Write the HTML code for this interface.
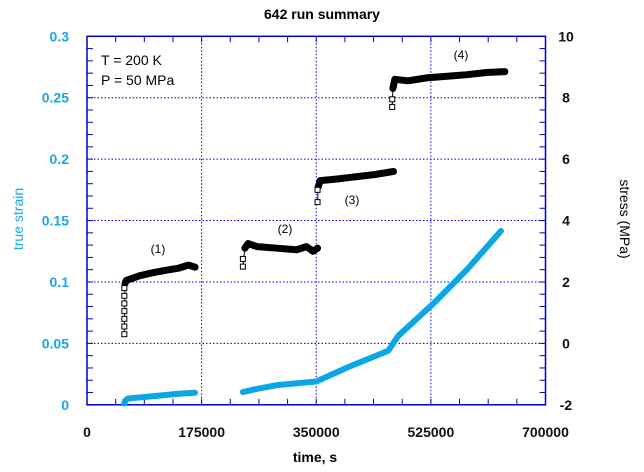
<!DOCTYPE html>
<html><head><meta charset="utf-8"><style>
body{margin:0;background:#fff;}
svg{display:block;font-family:"Liberation Sans",sans-serif;}
</style></head><body>
<svg id="c" width="644" height="472"></svg>
<script>
// data
const xTicks=[0,175000,350000,525000,700000];
const xTickLabels=["0","175000","350000","525000","700000"];
const leftTicks=[0,0.05,0.1,0.15,0.2,0.25,0.3];
const leftTickLabels=["0","0.05","0.1","0.15","0.2","0.25","0.3"];
const rightTicks=[-2,0,2,4,6,8,10];
const rightTickLabels=["-2","0","2","4","6","8","10"];
const strainT1=[57000,58000,62000,80000,100000,120000,140000,165000];
const strainV1=[0.001,0.003,0.005,0.006,0.007,0.008,0.009,0.0098];
const strainT2=[238000,260000,290000,320000,350000,400000,460000,475000,530000,580000,632000];
const strainV2=[0.0104,0.013,0.016,0.0175,0.019,0.031,0.044,0.056,0.083,0.11,0.1415];
const stressT1=[57000,58000,60000,80000,100000,120000,140000,155000,165000];
const stressV1=[0.3,1.95,2.05,2.2,2.3,2.38,2.45,2.55,2.48];
const stressT2=[238000,241000,246000,260000,290000,320000,335000,345000,352000];
const stressV2=[2.5,3.1,3.25,3.15,3.1,3.05,3.15,3.0,3.1];
const stressT3=[352000,353000,356000,380000,400000,420000,440000,468000];
const stressV3=[4.6,5.1,5.3,5.35,5.4,5.45,5.5,5.6];
const stressT4=[466000,467000,470000,490000,520000,550000,580000,610000,638000];
const stressV4=[7.7,8.3,8.6,8.55,8.65,8.7,8.75,8.82,8.85];
const stressSqT=[57000,57000,57000,57000,57000,57000,57000,238000,238000,352000,352000,466000,466000];
const stressSqV=[0.3,0.55,0.8,1.05,1.3,1.55,1.8,2.5,2.75,4.6,5.0,7.7,7.95];

const L=87,R=545.5,T=36.3,B=404.8;
const X=t=>L+(t/700000)*(R-L);
const YL=v=>B-(v/0.3)*(B-T);
const YR=v=>B-((v+2)/12)*(B-T);
const svg=document.getElementById('c');
const NS='http://www.w3.org/2000/svg';
function mk(tag,attrs,parent){const e=document.createElementNS(NS,tag);for(const k in attrs)e.setAttribute(k,attrs[k]);(parent||svg).appendChild(e);return e;}

// grid
const grid=mk('g',{});


[175000,350000,525000].forEach(t=>mk('line',{x1:X(t),x2:X(t),y1:T,y2:B,stroke:'#0000cc','stroke-width':1,'stroke-dasharray':'1.5,2'},grid));
[0.05,0.1,0.15,0.2,0.25].forEach(v=>mk('line',{x1:L,x2:R,y1:YL(v),y2:YL(v),stroke:'#0000cc','stroke-width':1,'stroke-dasharray':'1.5,2'},grid));

// frame
const fr=mk('rect',{x:L,y:T,width:R-L,height:B-T,fill:'none',stroke:'#0000cc','stroke-width':1.5});


// minor ticks
for(let t=0;t<=700000;t+=43750){mk('line',{x1:X(t),x2:X(t),y1:B,y2:B-6,stroke:'#0000cc'});mk('line',{x1:X(t),x2:X(t),y1:T,y2:T+6,stroke:'#0000cc'});}
for(let v=0;v<=0.3001;v+=0.01){mk('line',{x1:L,x2:L+6,y1:YL(v),y2:YL(v),stroke:'#0000cc'});}
for(let v=-2;v<=10.001;v+=0.4){mk('line',{x1:R,x2:R-6,y1:YR(v),y2:YR(v),stroke:'#0000cc'});}

// tick labels
xTicks.forEach((t,i)=>{const e=mk('text',{x:X(t),y:437,'text-anchor':'middle','font-size':14,'font-weight':'bold',fill:'#111'});e.textContent=xTickLabels[i];

});
leftTicks.forEach((v,i)=>{const e=mk('text',{x:69,y:YL(v)+5,'text-anchor':'end','font-size':14,'font-weight':'bold',fill:'#1aa7e6'});e.textContent=leftTickLabels[i];

});
rightTicks.forEach((v,i)=>{const e=mk('text',{x:566,y:YR(v)+5,'text-anchor':'middle','font-size':14,'font-weight':'bold',fill:'#111'});e.textContent=rightTickLabels[i];

});

// strain
[[strainT1,strainV1],[strainT2,strainV2]].forEach(([ts,vs],k)=>{
 const p=mk('polyline',{points:ts.map((t,i)=>X(t)+','+YL(vs[i])).join(' '),fill:'none',stroke:'#0aa6e6','stroke-width':6,'stroke-linecap':'round','stroke-linejoin':'round'});
 
 
});
// stress
[[stressT1,stressV1],[stressT2,stressV2],[stressT3,stressV3],[stressT4,stressV4]].forEach(([ts,vs],k)=>{
 const p=mk('polyline',{points:ts.slice(1).map((t,i)=>X(t)+','+YR(vs[i+1])).join(' '),fill:'none',stroke:'#000','stroke-width':7,'stroke-linecap':'round','stroke-linejoin':'round'});
 
 
 mk('line',{x1:X(ts[0]),x2:X(ts[1]),y1:YR(vs[0]),y2:YR(vs[1]),stroke:'#000','stroke-width':1});
});
stressSqT.forEach((t,i)=>{const r=mk('rect',{x:X(t)-2.5,y:YR(stressSqV[i])-2.5,width:5,height:5,fill:'#fff',stroke:'#000','stroke-width':1});

});

// annotations
[['(1)',158,253],['(2)',285,233],['(3)',352,204],['(4)',461,59]].forEach(([s,x,y])=>{const e=mk('text',{x:x,y:y,'text-anchor':'middle','font-size':12,fill:'#000'});e.textContent=s;

});
</script>
<svg width="0" height="0"></svg>
<div style="position:absolute;left:0;top:0;width:644px;height:472px;pointer-events:none;font-family:'Liberation Sans',sans-serif;">
<div style="position:absolute;left:0;width:644px;top:6px;text-align:center;font-size:14px;font-weight:bold;">642 run summary</div>
<div style="position:absolute;left:0;width:630px;top:449px;text-align:center;font-size:14px;font-weight:bold;">time, s</div>
<div style="position:absolute;left:-32px;top:211px;width:100px;text-align:center;font-size:14px;color:#1aa7e6;transform:rotate(-90deg);">true strain</div>
<div style="position:absolute;left:575px;top:211px;width:100px;text-align:center;font-size:14px;color:#000;transform:rotate(90deg);">stress (MPa)</div>
<div style="position:absolute;left:101px;top:50px;font-size:14px;line-height:20px;">T = 200 K<br>P = 50 MPa</div>
</div>
</body></html>
